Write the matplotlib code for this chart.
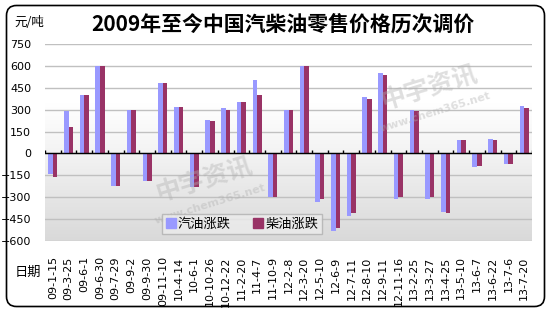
import numpy as np
import matplotlib
matplotlib.use("Agg")
import matplotlib.pyplot as plt
from matplotlib.colors import LinearSegmentedColormap
from matplotlib.lines import Line2D
from matplotlib.patches import FancyBboxPatch

plt.rcParams["font.family"] = ["DejaVu Sans", "Noto Sans CJK SC"]
CJK = ["Noto Sans CJK SC", "DejaVu Sans"]

dates = ["09-1-15", "09-3-25", "09-6-1", "09-6-30", "09-7-29", "09-9-2", "09-9-30",
         "09-11-10", "10-4-14", "10-6-1", "10-10-26", "10-12-22", "11-2-20", "11-4-7",
         "11-10-9", "12-2-8", "12-3-20", "12-5-10", "12-6-9", "12-7-11", "12-8-10",
         "12-9-11", "12-11-16", "13-2-25", "13-3-27", "13-4-25", "13-5-10", "13-6-7",
         "13-6-22", "13-7-6", "13-7-20"]
gasoline = [-140, 290, 400, 600, -220, 300, -190, 480, 320, -230, 230, 310, 350, 500,
            -300, 300, 600, -330, -530, -430, 390, 550, -310, 300, -310, -400, 95, -95,
            100, -75, 325]
diesel = [-160, 180, 400, 600, -220, 300, -190, 480, 320, -230, 220, 300, 350, 400,
          -300, 300, 600, -310, -510, -410, 370, 535, -300, 290, -300, -410, 95, -85,
          92, -75, 310]
yticks = list(range(-600, 751, 150))

GAS = "#9999FF"
DSL = "#993366"
n = len(dates)
x = np.arange(n)
w = 0.29

fig = plt.figure(figsize=(5.52, 3.13), dpi=100)

# rounded outer frame, drawn in an invisible full-figure axes
fax = fig.add_axes([0, 0, 1, 1], zorder=-5)
fax.set_xlim(0, 552)
fax.set_ylim(313, 0)
fax.axis("off")
fax.add_patch(FancyBboxPatch((6.5, 5.5), 538, 301, boxstyle="round,pad=0,rounding_size=10",
                             fill=False, ec="black", lw=1.2, clip_on=False))

ax = fig.add_axes([45 / 552, 1 - 241 / 313, 487 / 552, 197 / 313])

# plot-area gradient (grey at bottom -> white at top)
bg = LinearSegmentedColormap.from_list(
    "bg", [(0, "#d9d9d9"), (0.45, "#f3f3f3"), (0.7, "#ffffff"), (1, "#ffffff")])
ax.imshow(np.linspace(0, 1, 256).reshape(-1, 1), extent=[-0.5, n - 0.5, -600, 750],
          aspect="auto", cmap=bg, origin="lower", zorder=0)

ax.bar(x - w / 2, gasoline, w, color=GAS, zorder=3)
ax.bar(x + w / 2, diesel, w, color=DSL, zorder=3)

ax.set_xlim(-0.5, n - 0.5)
ax.set_ylim(-600, 750)
ax.set_yticks(yticks)
ax.grid(axis="y", color="#c0c0c0", lw=1)
ax.set_axisbelow(True)
for s in ax.spines.values():
    s.set_visible(False)
ax.tick_params(axis="y", length=0, labelsize=8, pad=10)
ax.set_xticks(x)
ax.set_xticklabels(dates, rotation=90, fontsize=8)
ax.tick_params(axis="x", length=0, pad=11)

# category axis crossing at zero
ax.axhline(0, color="black", lw=1, zorder=4)
ax.vlines(np.arange(n + 1) - 0.5, 0, 22, color="black", lw=1, zorder=4)

handles = [Line2D([], [], marker="s", ls="", color=GAS, markersize=6.5),
           Line2D([], [], marker="s", ls="", color=DSL, markersize=6.5)]
leg = fig.legend(handles, ["汽油涨跌", "柴油涨跌"], loc="center",
                 bbox_to_anchor=(242 / 552, 1 - 224 / 313), ncol=2, frameon=True,
                 fancybox=False, facecolor="#ececec", edgecolor="#b0b0b0",
                 handlelength=0.7, handletextpad=0.15, columnspacing=1.8,
                 borderpad=0.3, prop={"family": CJK, "size": 9.5})
leg.get_frame().set_linewidth(1)

# watermark
for (wx, wy) in [(205, 180), (430, 88)]:
    fig.text(wx / 552, 1 - wy / 313, "中宇资讯", family=CJK, fontsize=18, weight="bold",
             color="#b0b0b0", alpha=0.4, rotation=17, ha="center", va="center")
    fig.text((wx + 5) / 552, 1 - (wy + 24) / 313, "www.chem365.net", fontsize=8,
             weight="bold", color="#b0b0b0", alpha=0.4, rotation=17,
             ha="center", va="center")

fig.text(283 / 552, 1 - 24.5 / 313, "2009年至今中国汽柴油零售价格历次调价", family=CJK,
         fontsize=15, weight="bold", ha="center", va="center")
fig.text(14 / 552, 1 - 23 / 313, "元/吨", family=CJK, fontsize=9, ha="left", va="center")
fig.text(15 / 552, 1 - 272 / 313, "日期", family=CJK, fontsize=9.5, ha="left", va="center")

fig.savefig("out.png", dpi=100)
